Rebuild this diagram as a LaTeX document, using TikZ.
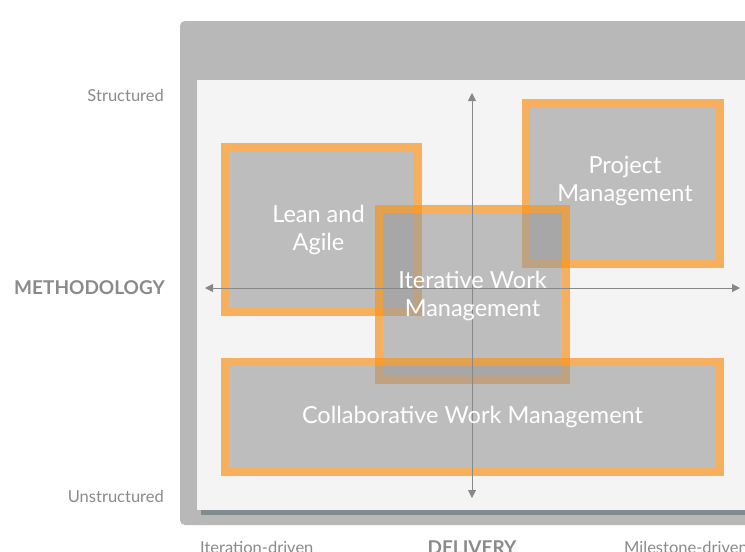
\documentclass[tikz,border=0pt]{standalone}
\usepackage{fontspec}
\setmainfont{Lato}
\usetikzlibrary{arrows.meta}
\definecolor{panelgrey}{HTML}{B8B8B8}
\definecolor{innerbg}{HTML}{F4F4F4}
\definecolor{shadowbar}{HTML}{808B8F}
\definecolor{boxorange}{HTML}{F7941D}
\definecolor{boxgrey}{HTML}{999999}
\definecolor{labelgrey}{HTML}{8A8A8A}
\definecolor{axisgrey}{HTML}{888888}
\tikzset{
  quadframe/.style={draw=boxorange, draw opacity=0.7, line width=8pt, inner sep=0pt},
  quadfill/.style={fill=boxgrey, fill opacity=0.6},
  quadtext/.style={text=white, align=center, inner sep=0pt,
    font=\fontsize{23.5}{28}\selectfont},
  axislabel/.style={text=labelgrey, font=\fontsize{16.5}{18}\selectfont, inner sep=0pt},
  axistitle/.style={text=labelgrey, font=\fontsize{19}{22}\selectfont\bfseries, inner sep=0pt},
  axisline/.style={draw=axisgrey, line width=1pt, {Triangle[length=8pt,width=8pt]}-{Triangle[length=8pt,width=8pt]}}
}
\begin{document}
\begin{tikzpicture}[x=1pt,y=-1pt]
\useasboundingbox (0,0) rectangle (745,552);
\clip (0,0) rectangle (745,552);
\fill[white] (0,0) rectangle (745,552);
% panel
\fill[panelgrey, rounded corners=5pt] (180,21) rectangle (770,525);
\fill[shadowbar] (201,505) rectangle (770,515);
\fill[innerbg] (197,80) rectangle (770,510);
% quadrant boxes: fill inside the frame, then the frame
\fill[quadfill] (229,151) rectangle (414,308);
\node[quadframe, minimum width=193pt, minimum height=165pt] (lean) at (321.5,229.5) {};
\fill[quadfill] (530,107) rectangle (716,260);
\node[quadframe, minimum width=194pt, minimum height=161pt] (pm) at (623,183.5) {};
\fill[quadfill] (383,213) rectangle (562,376);
\node[quadframe, minimum width=187pt, minimum height=171pt] (iter) at (472.5,294.5) {};
\fill[quadfill] (229,366) rectangle (716,468);
\node[quadframe, minimum width=495pt, minimum height=110pt] (cwm) at (472.5,417) {};
% axes
\coordinate (ytop) at (472,93);
\coordinate (ybot) at (472,498);
\coordinate (xleft) at (205,288);
\coordinate (xright) at (740,288);
\draw[axisline] (ybot) -- (ytop);
\draw[axisline] (xleft) -- (xright);
% box texts
\node[quadtext] (leantext) at ([xshift=-3pt]lean.center) {Lean and\\Agile};
\node[quadtext] (pmtext) at ([xshift=2pt,yshift=2pt]pm.center) {Project\\Management};
\node[quadtext] (itertext) at ([yshift=-1pt]iter.center) {Iterative Work\\Management};
\node[quadtext] (cwmtext) at (cwm.center) {Collaborative Work Management};
% labels
\node[axislabel, anchor=east] (structured) at (164,95) {Structured};
\node[axislabel, anchor=east] (unstructured) at (164,496) {Unstructured};
\node[axistitle, anchor=east] (methodology) at (165,288) {METHODOLOGY};
\node[axislabel, anchor=base west] (iterdriven) at (200,553) {Iteration-driven};
\node[axistitle, anchor=base] (delivery) at (472,554) {DELIVERY};
\node[axislabel, anchor=base west] (milestone) at (624,553) {Milestone-driven};
\end{tikzpicture}
\end{document}
